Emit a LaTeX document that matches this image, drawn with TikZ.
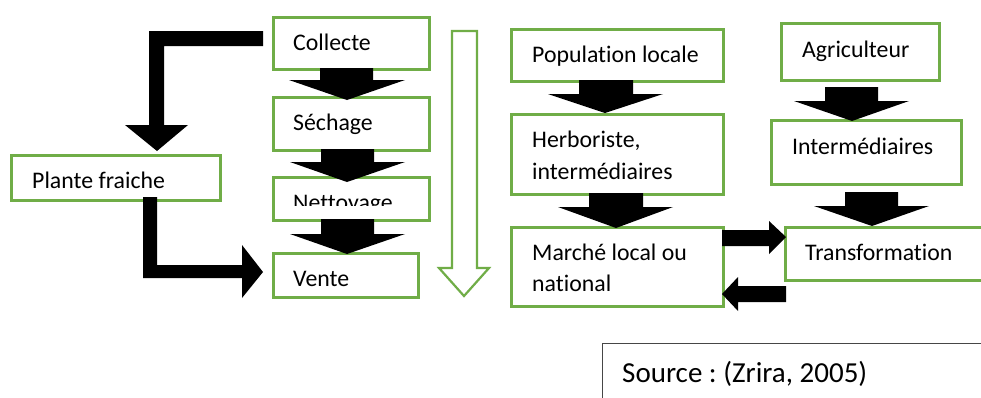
\documentclass[tikz,border=0pt]{standalone}
\usepackage{fontspec}
\setmainfont[Ligatures={NoCommon}]{Carlito}
\frenchspacing
\definecolor{boxgreen}{RGB}{112,173,71}
\definecolor{srcgray}{RGB}{70,70,70}
\begin{document}
\begin{tikzpicture}[x=1pt,y=-1pt,
  gbox/.style={draw=boxgreen,line width=2.6pt,fill=white,inner sep=0pt,anchor=north west},
  txt/.style={anchor=base west,inner sep=0pt,font=\fontsize{23.8}{31}\selectfont\frenchspacing,align=left},
  blk/.style={fill=black,draw=none}]
\clip (0,0) rectangle (981,397);
\fill[white] (0,0) rectangle (981,397);
% boxes
\node[gbox,minimum width=156pt,minimum height=52pt] (collecte) at (272,16) {};
\node[gbox,minimum width=156pt,minimum height=53pt] (sechage) at (272,96) {};
\node[gbox,minimum width=156pt,minimum height=43pt] (nettoyage) at (272,176) {};
\node[gbox,minimum width=145pt,minimum height=44pt] (vente) at (272,252) {};
\node[gbox,minimum width=209pt,minimum height=45pt] (plante) at (10,154) {};
\node[gbox,minimum width=212pt,minimum height=52pt] (pop) at (510,28) {};
\node[gbox,minimum width=212pt,minimum height=80pt] (herb) at (510,113) {};
\node[gbox,minimum width=212pt,minimum height=79pt] (marche) at (510,226) {};
\node[gbox,minimum width=158pt,minimum height=57pt] (agri) at (780,22) {};
\node[gbox,minimum width=190pt,minimum height=64pt] (interm) at (770,119) {};
\node[gbox,minimum width=210pt,minimum height=53pt] (transf) at (784,226) {};
\node[draw=srcgray,line width=1pt,inner sep=0pt,anchor=north west,minimum width=400pt,minimum height=80pt] (source) at (602,343) {};
% texts
\node[txt] at ([xshift=21pt,yshift=-34pt]collecte.north west) {Collecte};
\node[txt] at ([xshift=21pt,yshift=-34pt]sechage.north west) {Séchage};
\begin{scope}
\clip (272,176) rectangle (428,205);
\node[txt] at ([xshift=21pt,yshift=-34pt]nettoyage.north west) {Nettoyage};
\end{scope}
\node[txt] at ([xshift=21pt,yshift=-34pt]vente.north west) {Vente};
\node[txt] at ([xshift=22pt,yshift=-34pt]plante.north west) {Plante fraiche};
\node[txt] at ([xshift=22pt,yshift=-34pt]pop.north west) {Population locale};
\node[txt] at ([xshift=22pt,yshift=-34pt]herb.north west) {Herboriste,};
\node[txt] at ([xshift=22pt,yshift=-66pt]herb.north west) {intermédiaires};
\node[txt] at ([xshift=22pt,yshift=-34pt]marche.north west) {Marché local ou};
\node[txt] at ([xshift=22pt,yshift=-65pt]marche.north west) {national};
\node[txt] at ([xshift=22pt,yshift=-35pt]agri.north west) {Agriculteur};
\node[txt] at ([xshift=22pt,yshift=-35pt]interm.north west) {Intermédiaires};
\node[txt] at ([xshift=21pt,yshift=-34pt]transf.north west) {Transformation};
\node[txt,font=\fontsize{29}{35}\selectfont\frenchspacing] at ([xshift=20pt,yshift=-39pt]source.north west) {Source : (Zrira, 2005)};
% block arrows
\fill[blk] (320,68)--(373,68)--(373,80)--(405,80)--(347,100)--(289,80)--(320,80)--cycle;
\fill[blk] (321,149)--(374,149)--(374,162)--(405,162)--(347,182)--(290,162)--(321,162)--cycle;
\fill[blk] (321,219)--(374,219)--(374,234)--(405,234)--(347,254)--(290,234)--(321,234)--cycle;
\fill[blk] (263,31)--(263,46)--(164,46)--(164,125)--(188,125)--(157,151)--(125,125)--(149,125)--(149,31)--cycle;
\fill[blk] (143,197)--(157,197)--(157,265)--(242,265)--(242,245)--(263,272)--(242,298)--(242,278)--(143,278)--cycle;
\draw[draw=boxgreen,line width=2.2pt,fill=white,line join=miter] (452,31)--(477,31)--(477,268)--(489,268)--(464,296)--(439,268)--(452,268)--cycle;
\fill[blk] (579,80)--(633,80)--(633,94)--(663,94)--(605,113)--(548,94)--(579,94)--cycle;
\fill[blk] (589,193)--(643,193)--(643,207)--(673,207)--(616,228)--(558,207)--(589,207)--cycle;
\fill[blk] (825,87)--(878,87)--(878,101)--(909,101)--(852,121)--(794,101)--(825,101)--cycle;
\fill[blk] (845,192)--(898,192)--(898,206)--(929,206)--(872,226)--(814,206)--(845,206)--cycle;
\fill[blk] (722,230)--(769,230)--(769,221)--(786,237)--(769,254)--(769,246)--(722,246)--cycle;
\fill[blk] (786,286)--(786,302)--(738,302)--(738,311)--(722,294)--(738,277)--(738,286)--cycle;
\end{tikzpicture}
\end{document}
